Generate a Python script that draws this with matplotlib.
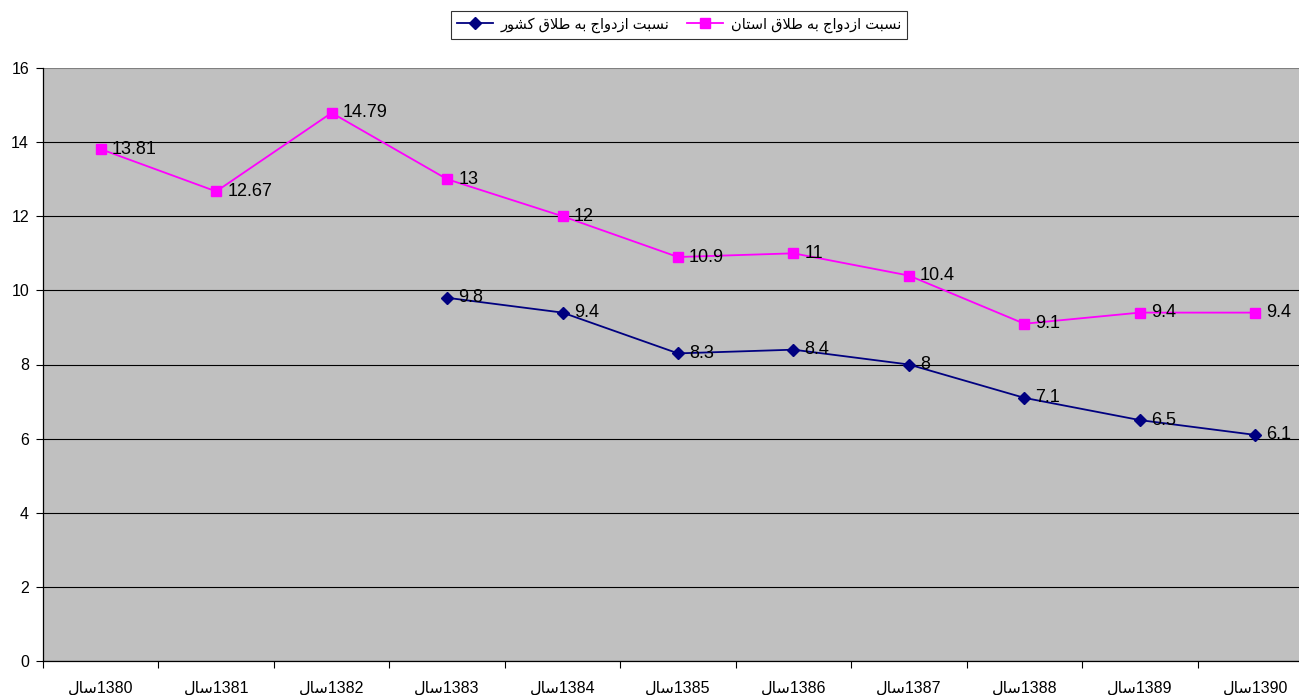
import numpy as np
import matplotlib
matplotlib.use('Agg')
import matplotlib.pyplot as plt

# data
years = ['1380', '1381', '1382', '1383', '1384', '1385', '1386', '1387', '1388', '1389', '1390']
province = [13.81, 12.67, 14.79, 13, 12, 10.9, 11, 10.4, 9.1, 9.4, 9.4]
country = [np.nan, np.nan, np.nan, 9.8, 9.4, 8.3, 8.4, 8, 7.1, 6.5, 6.1]
name_country = 'نسبت ازدواج به طلاق کشور'
name_province = 'نسبت ازدواج به طلاق استان'
year_word = 'سال'

# minimal arabic/persian shaping (matplotlib draws glyphs left to right without shaping)
FORMS = {  # isolated, final, initial, medial
    'ا': ('\uFE8D', '\uFE8E', None, None),
    'ب': ('\uFE8F', '\uFE90', '\uFE91', '\uFE92'),
    'ت': ('\uFE95', '\uFE96', '\uFE97', '\uFE98'),
    'ج': ('\uFE9D', '\uFE9E', '\uFE9F', '\uFEA0'),
    'د': ('\uFEA9', '\uFEAA', None, None),
    'ر': ('\uFEAD', '\uFEAE', None, None),
    'ز': ('\uFEAF', '\uFEB0', None, None),
    'س': ('\uFEB1', '\uFEB2', '\uFEB3', '\uFEB4'),
    'ش': ('\uFEB5', '\uFEB6', '\uFEB7', '\uFEB8'),
    'ط': ('\uFEC1', '\uFEC2', '\uFEC3', '\uFEC4'),
    'ق': ('\uFED5', '\uFED6', '\uFED7', '\uFED8'),
    'ل': ('\uFEDD', '\uFEDE', '\uFEDF', '\uFEE0'),
    'ن': ('\uFEE5', '\uFEE6', '\uFEE7', '\uFEE8'),
    'ه': ('\uFEE9', '\uFEEA', '\uFEEB', '\uFEEC'),
    'و': ('\uFEED', '\uFEEE', None, None),
    'ک': ('\uFB8E', '\uFB8F', '\uFB90', '\uFB91'),
}


def dual(c):
    return c in FORMS and FORMS[c][2] is not None


def rtl(text):
    chars = list(text)
    out = []
    i = 0
    while i < len(chars):
        c = chars[i]
        prev = chars[i - 1] if i > 0 else ''
        join_prev = dual(prev)
        # lam + alef ligature
        if c == 'ل' and i + 1 < len(chars) and chars[i + 1] == 'ا':
            out.append('\uFEFC' if join_prev else '\uFEFB')
            i += 2
            continue
        if c not in FORMS:
            out.append(c)
            i += 1
            continue
        nxt = chars[i + 1] if i + 1 < len(chars) else ''
        join_next = dual(c) and nxt in FORMS
        iso, fin, ini, med = FORMS[c]
        if join_prev and join_next:
            out.append(med)
        elif join_prev:
            out.append(fin)
        elif join_next:
            out.append(ini)
        else:
            out.append(iso)
        i += 1
    return ''.join(reversed(out))


plt.rcParams['font.family'] = ['Liberation Sans', 'DejaVu Sans']

fig = plt.figure(figsize=(12.99, 6.95), dpi=100)
ax = fig.add_axes([43 / 1299, 34 / 695, 1270 / 1299, 593 / 695])
ax.set_facecolor('#C0C0C0')

x = np.arange(len(years))
ax.plot(x, country, color='#000080', marker='D', markersize=6, linewidth=1.3,
        label=rtl(name_country))
ax.plot(x, province, color='#FF00FF', marker='s', markersize=7.5, linewidth=1.3,
        label=rtl(name_province))

for xi, v in zip(x, province):
    ax.annotate('%g' % v, (xi, v), xytext=(8, 0), textcoords='offset points',
                va='center', ha='left', fontsize=13)
for xi, v in zip(x, country):
    if not np.isnan(v):
        ax.annotate('%g' % v, (xi, v), xytext=(8, 0), textcoords='offset points',
                    va='center', ha='left', fontsize=13)

ax.set_xlim(-0.5, len(years) - 0.5)
ax.set_ylim(0, 16)
ax.set_yticks(range(0, 17, 2))
ax.yaxis.grid(True, color='black', linewidth=0.8)
ax.get_ygridlines()[-1].set_color('#808080')
ax.set_axisbelow(True)

ax.set_xticks(np.arange(-0.5, len(years), 1))
ax.set_xticklabels([])
ax.set_xticks(x, minor=True)
ax.set_xticklabels([rtl(year_word) + y for y in years], minor=True)
ax.tick_params(axis='x', which='major', length=5, width=0.8, direction='out')
ax.tick_params(axis='x', which='minor', length=0, pad=14, labelsize=11.5)
ax.tick_params(axis='y', length=5, width=0.8, pad=5, labelsize=11.5)

for s in ['top', 'right']:
    ax.spines[s].set_visible(False)
ax.spines['left'].set_linewidth(0.9)
ax.spines['bottom'].set_linewidth(0.9)

leg = fig.legend(loc='center', bbox_to_anchor=(679 / 1299, 1 - 25 / 695), ncol=2,
                 frameon=True, fancybox=False, edgecolor='black', fontsize=10.5,
                 handlelength=2.5, columnspacing=1.2, borderpad=0.4, handletextpad=0.5)
leg.get_frame().set_linewidth(0.8)

fig.savefig('out.png', dpi=100)
